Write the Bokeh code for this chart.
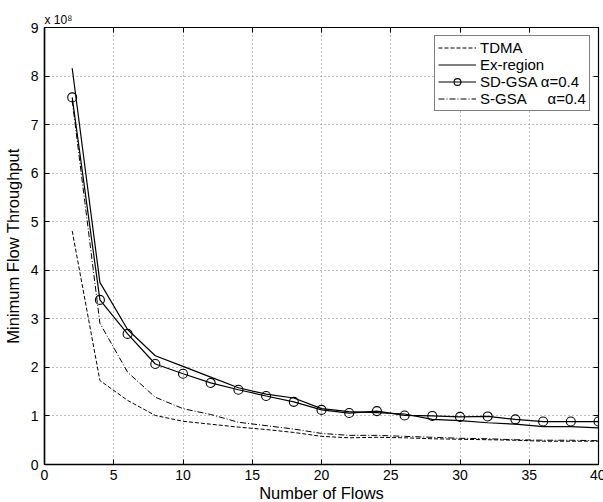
from bokeh.plotting import figure
from bokeh.models import Range1d, LinearAxis, Legend, LegendItem, Title, FixedTicker
from bokeh.embed import file_html
from bokeh.resources import INLINE

flows = [2, 4, 6, 8, 10, 12, 14, 16, 18, 20, 22, 24, 26, 28, 30, 32, 34, 36, 38, 40]
tdma = [4.81, 1.73, 1.32, 1.01, 0.89, 0.83, 0.77, 0.72, 0.66, 0.58, 0.55, 0.56, 0.55, 0.53, 0.52, 0.51, 0.50, 0.48, 0.48, 0.48]
ex_region = [8.16, 3.75, 2.78, 2.24, 2.02, 1.80, 1.58, 1.45, 1.37, 1.15, 1.09, 1.07, 1.04, 0.93, 0.905, 0.86, 0.83, 0.78, 0.78, 0.755]
sd_gsa = [7.56, 3.39, 2.69, 2.07, 1.87, 1.68, 1.54, 1.41, 1.29, 1.125, 1.06, 1.10, 1.01, 1.00, 0.98, 0.99, 0.93, 0.885, 0.885, 0.885]
s_gsa = [7.5, 2.91, 1.90, 1.385, 1.15, 1.03, 0.87, 0.80, 0.73, 0.64, 0.60, 0.60, 0.58, 0.56, 0.54, 0.53, 0.51, 0.50, 0.50, 0.49]

x_ticks = [0, 5, 10, 15, 20, 25, 30, 35, 40]
y_ticks = [0, 1, 2, 3, 4, 5, 6, 7, 8, 9]

FONT = "Liberation Sans"

p = figure(width=603, height=502, frame_width=554, frame_height=437,
           x_range=Range1d(0, 40), y_range=Range1d(0, 9),
           output_backend="svg", toolbar_location=None,
           min_border_left=42, min_border_right=7, min_border_top=27, min_border_bottom=38)

p.background_fill_color = "white"
p.border_fill_color = "white"
p.outline_line_color = "black"
p.outline_line_width = 1.2

for ax in (p.xaxis[0], p.yaxis[0]):
    ax.major_label_text_font = FONT
    ax.major_label_text_font_size = "14px"
    ax.major_label_text_color = "black"
    ax.axis_label_text_font = FONT
    ax.axis_label_text_font_size = "16.5px"
    ax.axis_label_text_font_style = "normal"
    ax.axis_label_text_color = "black"
    ax.major_tick_in = 5
    ax.major_tick_out = 0
    ax.minor_tick_in = 0
    ax.minor_tick_out = 0
    ax.axis_line_color = "black"
    ax.axis_line_width = 1.5
    ax.major_tick_line_color = "black"

p.xaxis[0].ticker = FixedTicker(ticks=x_ticks)
p.yaxis[0].ticker = FixedTicker(ticks=y_ticks)
p.xaxis[0].axis_label = "Number of Flows"
p.yaxis[0].axis_label = "Minimum Flow Throughput"
p.xaxis[0].major_label_standoff = 5
p.yaxis[0].major_label_standoff = 6
p.xaxis[0].axis_label_standoff = 1
p.yaxis[0].axis_label_standoff = 6

right_ax = LinearAxis(ticker=FixedTicker(ticks=y_ticks), major_label_text_font_size="1px",
                      major_label_text_color=None,
                      major_tick_in=5, major_tick_out=0, minor_tick_in=0, minor_tick_out=0,
                      axis_line_color="black", major_label_standoff=0)
top_ax = LinearAxis(ticker=FixedTicker(ticks=x_ticks), major_label_text_font_size="1px",
                    major_label_text_color=None,
                    major_tick_in=5, major_tick_out=0, minor_tick_in=0, minor_tick_out=0,
                    axis_line_color="black", major_label_standoff=0)
p.add_layout(right_ax, "right")
p.add_layout(top_ax, "above")

p.add_layout(Title(text="x 10\u2078", align="left", text_font=FONT, text_font_size="12px",
                   text_font_style="normal", text_color="black", offset=0, standoff=2), "above")

p.xgrid.ticker = FixedTicker(ticks=x_ticks)
p.ygrid.ticker = FixedTicker(ticks=y_ticks)
for g in (p.xgrid[0], p.ygrid[0]):
    g.grid_line_color = "#777777"
    g.grid_line_dash = "1 3"
    g.grid_line_width = 1

r_tdma = p.line(flows, tdma, line_color="black", line_width=1, line_dash="4 2")
r_ex = p.line(flows, ex_region, line_color="black", line_width=1.2)
r_sd = p.line(flows, sd_gsa, line_color="black", line_width=1.2)
r_sd_m = p.scatter(flows, sd_gsa, marker="circle", size=9, line_color="black",
                   fill_color=None, line_width=1.1)
r_s = p.line(flows, s_gsa, line_color="black", line_width=1, line_dash="6 2 1 2")

legend = Legend(items=[
    LegendItem(label="TDMA", renderers=[r_tdma]),
    LegendItem(label="Ex-region", renderers=[r_ex]),
    LegendItem(label="SD-GSA \u03b1=0.4", renderers=[r_sd, r_sd_m]),
    LegendItem(label="S-GSA\u00a0\u00a0\u00a0\u00a0\u00a0\u03b1=0.4", renderers=[r_s]),
], location=(390, 353))
legend.label_text_font = FONT
legend.label_text_font_size = "15px"
legend.label_text_color = "black"
legend.glyph_width = 38
legend.glyph_height = 17
legend.label_height = 17
legend.label_standoff = 4
legend.spacing = 0
legend.padding = 3
legend.margin = 0
legend.border_line_color = "black"
legend.border_line_width = 1.3
legend.background_fill_color = "white"
legend.background_fill_alpha = 1
p.add_layout(legend, "center")

open("out.html", "w").write(file_html(p, INLINE))
